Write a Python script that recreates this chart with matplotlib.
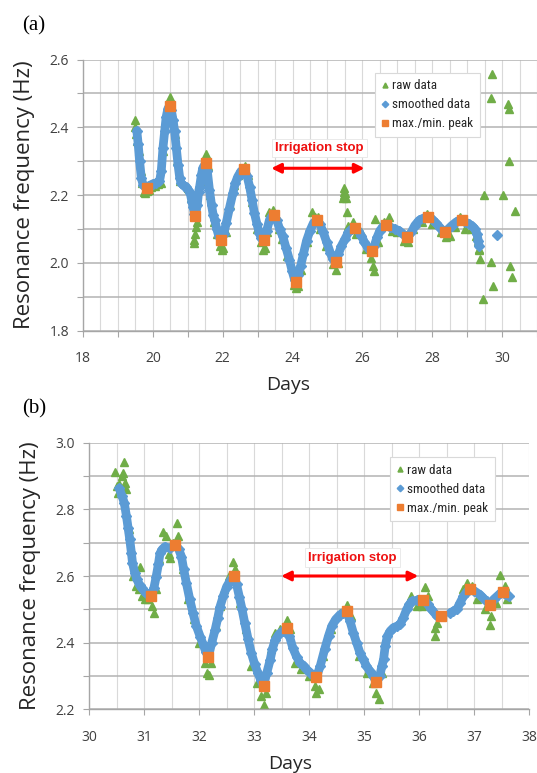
import numpy as np
import matplotlib
matplotlib.use("Agg")
import matplotlib.pyplot as plt
from matplotlib.ticker import MultipleLocator, FuncFormatter

# ---- panel (a) data ----
a_smooth_day = [19.54, 19.58, 19.62, 19.67, 19.72, 19.78, 19.83, 19.90, 20.00, 20.10,
                20.19, 20.24, 20.29, 20.34, 20.38, 20.43, 20.48, 20.53, 20.58, 20.62,
                20.67, 20.72, 20.77, 20.81, 20.88, 20.95, 21.02, 21.07, 21.12, 21.15,
                21.19, 21.22, 21.27, 21.31, 21.34, 21.39, 21.43, 21.51, 21.56, 21.62,
                21.68, 21.73, 21.77, 21.83, 21.89, 21.96, 22.03, 22.10, 22.19, 22.29,
                22.36, 22.43, 22.52, 22.62, 22.70, 22.77, 22.84, 22.91, 22.98, 23.05,
                23.11, 23.17, 23.26, 23.34, 23.41, 23.48, 23.55, 23.63, 23.72, 23.81,
                23.91, 23.99, 24.06, 24.10, 24.16, 24.23, 24.31, 24.40, 24.50, 24.60,
                24.69, 24.78, 24.88, 24.98, 25.08, 25.16, 25.23, 25.31, 25.40, 25.50,
                25.60, 25.70, 25.79, 25.88, 25.97, 26.06, 26.15, 26.22, 26.27, 26.34,
                26.42, 26.50, 26.60, 26.69, 26.80, 26.92, 27.05, 27.16, 27.29, 27.40,
                27.50, 27.62, 27.75, 27.87, 27.98, 28.10, 28.22, 28.30, 28.37, 28.46,
                28.56, 28.68, 28.77, 28.85, 28.95, 29.05, 29.15, 29.22, 29.28, 29.32,
                29.34, np.nan, 29.85]
a_smooth_hz = [2.39, 2.35, 2.30, 2.25, 2.23, 2.225, 2.222, 2.228, 2.233, 2.236,
               2.24, 2.27, 2.34, 2.39, 2.43, 2.455, 2.463, 2.45, 2.42, 2.39,
               2.34, 2.29, 2.25, 2.235, 2.228, 2.225, 2.215, 2.205, 2.18, 2.166,
               2.145, 2.137, 2.17, 2.21, 2.225, 2.26, 2.28, 2.294, 2.27, 2.215,
               2.17, 2.14, 2.127, 2.10, 2.078, 2.066, 2.085, 2.117, 2.16, 2.205,
               2.235, 2.254, 2.27, 2.276, 2.255, 2.225, 2.185, 2.146, 2.115, 2.087,
               2.072, 2.066, 2.095, 2.127, 2.138, 2.141, 2.125, 2.10, 2.078, 2.045,
               2.009, 1.975, 1.95, 1.944, 1.965, 1.99, 2.025, 2.065, 2.095, 2.118,
               2.126, 2.115, 2.09, 2.06, 2.03, 2.01, 2.003, 2.025, 2.05, 2.07,
               2.09, 2.10, 2.102, 2.095, 2.08, 2.06, 2.045, 2.037, 2.035, 2.05,
               2.075, 2.095, 2.108, 2.112, 2.105, 2.10, 2.095, 2.085, 2.075, 2.09,
               2.11, 2.125, 2.132, 2.134, 2.13, 2.118, 2.104, 2.095, 2.092, 2.10,
               2.11, 2.12, 2.125, 2.126, 2.12, 2.115, 2.108, 2.10, 2.085, 2.065,
               2.05, np.nan, 2.082]

a_raw_day = [19.50, 19.50, 19.52, 19.55, 19.60, 19.65, 19.70, 19.74, 19.78, 19.82,
             19.88, 19.95, 20.05, 20.15, 20.22, 20.30, 20.40, 20.46, 20.49, 20.52,
             20.56, 20.62, 20.70, 20.78, 21.00, 21.10, 21.18, 21.19, 21.19, 21.21,
             21.23, 21.26, 21.35, 21.45, 21.50, 21.53, 21.58, 21.65, 21.75, 21.85,
             21.93, 21.97, 22.02, 22.08, 22.20, 22.33, 22.45, 22.58, 22.64, 22.72,
             22.85, 22.98, 23.10, 23.16, 23.20, 23.28, 23.32, 23.45, 23.52, 23.60,
             23.70, 23.85, 23.98, 24.05, 24.10, 24.15, 24.25, 24.40, 24.57, 24.65,
             24.72, 24.80, 24.95, 25.15, 25.23, 25.30, 25.45, 25.46, 25.47, 25.48,
             25.50, 25.52, 25.57, 25.60, 25.72, 25.83, 25.95, 26.10, 26.25, 26.31,
             26.33, 26.36, 26.45, 26.62, 26.75, 26.85, 27.00, 27.20, 27.30, 27.45,
             27.70, 27.85, 28.00, 28.25, 28.40, 28.50, 28.65, 28.80, 28.95, 29.10,
             29.25, 29.30, 29.33, 29.35, 29.37, 29.44, 29.49, 29.67, 29.68, 29.71,
             29.75, 30.02, 30.18, 30.20, 30.20, 30.24, 30.29, 30.38]
a_raw_hz = [2.42, 2.40, 2.38, 2.36, 2.33, 2.27, 2.235, 2.21, 2.205, 2.212,
            2.215, 2.225, 2.228, 2.232, 2.235, 2.33, 2.44, 2.475, 2.49, 2.47,
            2.44, 2.38, 2.30, 2.24, 2.22, 2.19, 2.14, 2.068, 2.058, 2.085,
            2.107, 2.12, 2.24, 2.29, 2.31, 2.32, 2.285, 2.20, 2.12, 2.085,
            2.05, 2.038, 2.045, 2.09, 2.17, 2.23, 2.26, 2.28, 2.285, 2.26,
            2.18, 2.10, 2.06, 2.038, 2.045, 2.09, 2.151, 2.155, 2.14, 2.10,
            2.07, 2.02, 1.99, 1.935, 1.925, 1.93, 1.98, 2.06, 2.15, 2.135,
            2.135, 2.10, 2.05, 1.995, 1.98, 2.0, 2.19, 2.20, 2.21, 2.22,
            2.205, 2.19, 2.15, 2.11, 2.12, 2.085, 2.09, 2.04, 2.015, 1.99,
            1.976, 2.128, 2.06, 2.12, 2.136, 2.095, 2.09, 2.065, 2.06, 2.10,
            2.12, 2.145, 2.115, 2.09, 2.075, 2.08, 2.105, 2.135, 2.10, 2.10,
            2.08, 2.065, 2.04, 2.038, 2.01, 1.893, 2.20, 2.003, 2.486, 2.558,
            1.93, 2.20, 2.47, 2.455, 2.30, 1.99, 1.959, 2.154]

a_peak_day = [19.83, 20.48, 21.22, 21.51, 21.96, 22.62, 23.17, 23.48, 24.10,
              24.69, 25.23, 25.79, 26.27, 26.69, 27.29, 27.87, 28.37, 28.85]
a_peak_hz = [2.222, 2.463, 2.137, 2.294, 2.066, 2.276, 2.066, 2.141, 1.944,
             2.126, 2.003, 2.102, 2.035, 2.112, 2.075, 2.134, 2.092, 2.126]

# ---- panel (b) data ----
b_smooth_day = [30.55, 30.60, 30.64, 30.68, 30.71, 30.74, 30.77, 30.79, 30.83, 30.87,
                30.92, 30.96, 31.04, 31.12, 31.18, 31.22, 31.26, 31.29, 31.33, 31.38,
                31.47, 31.57, 31.63, 31.68, 31.72, 31.77, 31.83, 31.89, 31.95, 32.02,
                32.08, 32.12, 32.17, 32.23, 32.29, 32.34, 32.38, 32.44, 32.50, 32.56,
                32.63, 32.68, 32.73, 32.78, 32.83, 32.89, 32.95, 33.01, 33.07, 33.12,
                33.17, 33.23, 33.29, 33.33, 33.38, 33.45, 33.52, 33.59, 33.64, 33.70,
                33.77, 33.83, 33.90, 33.95, 34.02, 34.08, 34.13, 34.20, 34.28, 34.35,
                34.41, 34.48, 34.56, 34.62, 34.68, 34.74, 34.80, 34.86, 34.92, 34.98,
                35.04, 35.10, 35.16, 35.22, 35.28, 35.32, 35.35, 35.38, 35.42, 35.47,
                35.53, 35.60, 35.65, 35.71, 35.77, 35.82, 35.86, 35.95, 36.07, 36.15,
                36.22, 36.32, np.nan, 36.56, 36.62, 36.68, 36.74, 36.80, 36.86, 36.92,
                37.00, 37.10, 37.16, 37.22, 37.28, 37.35, 37.41, 37.47, 37.51, 37.56,
                37.62]
b_smooth_hz = [2.863, 2.84, 2.82, 2.78, 2.745, 2.71, 2.67, 2.64, 2.61, 2.59,
               2.572, 2.563, 2.548, 2.54, 2.565, 2.598, 2.635, 2.668, 2.68, 2.688,
               2.683, 2.693, 2.68, 2.658, 2.62, 2.578, 2.53, 2.488, 2.45, 2.418,
               2.392, 2.373, 2.358, 2.40, 2.438, 2.475, 2.508, 2.54, 2.568, 2.585,
               2.601, 2.575, 2.538, 2.50, 2.458, 2.41, 2.368, 2.335, 2.308, 2.288,
               2.27, 2.31, 2.348, 2.38, 2.408, 2.425, 2.435, 2.443, 2.42, 2.385,
               2.358, 2.34, 2.33, 2.32, 2.31, 2.30, 2.296, 2.33, 2.38, 2.42,
               2.45, 2.47, 2.484, 2.49, 2.494, 2.465, 2.43, 2.40, 2.37, 2.35,
               2.33, 2.315, 2.30, 2.281, 2.30, 2.33, 2.35, 2.39, 2.42, 2.435,
               2.445, 2.45, 2.455, 2.475, 2.50, 2.515, 2.524, 2.527, 2.529, 2.515,
               2.50, 2.48, np.nan, 2.489, 2.495, 2.50, 2.52, 2.539, 2.552, 2.56,
               2.555, 2.544, 2.534, 2.524, 2.514, 2.53, 2.539, 2.548, 2.553, 2.545,
               2.539]

b_raw_day = [30.47, 30.50, 30.52, 30.55, 30.60, 30.62, 30.64, 30.66, 30.68, 30.72,
             30.76, 30.80, 30.85, 30.90, 30.93, 30.97, 31.02, 31.08, 31.15, 31.18,
             31.22, 31.28, 31.35, 31.40, 31.45, 31.47, 31.52, 31.59, 31.62, 31.70,
             31.80, 31.90, 32.00, 32.10, 32.15, 32.18, 32.22, 32.30, 32.38, 32.45,
             32.55, 32.62, 32.66, 32.75, 32.85, 32.95, 33.05, 33.12, 33.18, 33.22,
             33.30, 33.38, 33.47, 33.59, 33.65, 33.75, 33.85, 34.00, 34.10, 34.13,
             34.18, 34.25, 34.40, 34.55, 34.68, 34.75, 34.90, 35.05, 35.15, 35.22,
             35.26, 35.28, 35.32, 35.80, 35.85, 35.95, 36.05, 36.10, 36.15, 36.28,
             36.28, 36.32, 36.80, 36.86, 36.95, 37.05, 37.20, 37.28, 37.30, 37.40,
             37.47, 37.55, 37.60]
b_raw_hz = [2.913, 2.87, 2.85, 2.875, 2.90, 2.91, 2.943, 2.88, 2.86, 2.74,
            2.68, 2.60, 2.57, 2.56, 2.628, 2.54, 2.53, 2.53, 2.51, 2.488,
            2.56, 2.65, 2.733, 2.72, 2.665, 2.653, 2.70, 2.758, 2.72, 2.62,
            2.53, 2.47, 2.40, 2.34, 2.31, 2.303, 2.34, 2.45, 2.51, 2.56,
            2.60, 2.643, 2.62, 2.52, 2.44, 2.33, 2.28, 2.24, 2.213, 2.25,
            2.38, 2.43, 2.44, 2.468, 2.44, 2.34, 2.32, 2.30, 2.27, 2.25,
            2.26, 2.36, 2.44, 2.49, 2.514, 2.48, 2.36, 2.31, 2.28, 2.25,
            2.23, 2.192, 2.31, 2.52, 2.54, 2.51, 2.51, 2.568, 2.54, 2.42,
            2.445, 2.46, 2.56, 2.578, 2.57, 2.53, 2.50, 2.454, 2.48, 2.52,
            2.603, 2.57, 2.53]

b_peak_day = [31.12, 31.57, 32.17, 32.63, 33.17, 33.59, 34.13, 34.68, 35.22,
              36.07, 36.39, 36.92, 37.28, 37.51]
b_peak_hz = [2.54, 2.693, 2.358, 2.601, 2.27, 2.443, 2.296, 2.494, 2.281,
             2.529, 2.479, 2.56, 2.514, 2.553]

legend_labels = ["raw data", "smoothed data", "max./min. peak"]

GREEN = "#70ad47"
BLUE = "#5b9bd5"
ORANGE = "#ed7d31"
LEGEND_FONT = ["Roboto Condensed", "Liberation Sans Narrow", "Roboto", "DejaVu Sans"]


def every_other(step):
    def fmt(v, pos):
        k = v / step
        if abs(k - round(k)) < 1e-6:
            return "%g" % v if step >= 1 else "%.1f" % v
        return ""
    return FuncFormatter(fmt)


def style_axes(ax, xlim, ylim, xlabel_step):
    ax.set_xlim(*xlim)
    ax.set_ylim(*ylim)
    ax.xaxis.set_major_locator(MultipleLocator(1))
    ax.xaxis.set_minor_locator(MultipleLocator(0.5))
    ax.xaxis.set_major_formatter(every_other(xlabel_step))
    ax.yaxis.set_major_locator(MultipleLocator(0.1))
    ax.yaxis.set_major_formatter(every_other(0.2))
    ax.grid(True, axis="x", which="both", color="#d9d9d9", lw=0.8, zorder=0)
    ax.grid(True, axis="y", which="major", color="#b3b3b3", lw=1.1, zorder=0)
    ax.set_axisbelow(True)
    for s in ["top", "right"]:
        ax.spines[s].set_visible(False)
    for s in ["left", "bottom"]:
        ax.spines[s].set_color("#a6a6a6")
        ax.spines[s].set_linewidth(1.0)
    ax.tick_params(axis="x", which="major", length=4, color="#a6a6a6",
                   labelsize=10, labelcolor="#404040", pad=11)
    ax.tick_params(axis="x", which="minor", length=0)
    ax.tick_params(axis="y", which="major", length=4, color="#a6a6a6",
                   labelsize=10, labelcolor="#404040", pad=6)
    for lab in ax.get_xticklabels() + ax.get_yticklabels():
        lab.set_family("Open Sans")
    ax.set_xlabel("Days", fontsize=14, family="Open Sans", color="#262626")
    ax.set_ylabel("Resonance frequency (Hz)", fontsize=16, family="Open Sans",
                  color="#262626")


def draw_series(ax, raw_d, raw_v, sm_d, sm_v, pk_d, pk_v):
    h1, = ax.plot(raw_d, raw_v, ls="none", marker="^", ms=6, color=GREEN,
                  mec=GREEN, zorder=2)
    ax.plot(sm_d, sm_v, ls="-", lw=6.3, color=BLUE, zorder=3,
            solid_capstyle="round", solid_joinstyle="round")
    h2, = ax.plot(sm_d, sm_v, ls="none", marker="D", ms=5.5, color=BLUE,
                  mec=BLUE, zorder=3)
    h3, = ax.plot(pk_d, pk_v, ls="none", marker="s", ms=6.5, color=ORANGE,
                  mec=ORANGE, zorder=4)
    return [h1, h2, h3]


def irrigation(ax, x0, x1, y_arrow, x_text, y_text):
    ax.annotate("", xy=(x0, y_arrow), xytext=(x1, y_arrow),
                arrowprops=dict(arrowstyle="<|-|>", color="#ff0000", lw=2.2,
                                mutation_scale=14, shrinkA=0, shrinkB=0),
                zorder=5)
    ax.text(x_text, y_text, "Irrigation stop", color="#ee1111",
            fontsize=9.5, fontweight="bold", family="Liberation Sans",
            ha="center", va="center", zorder=5,
            bbox=dict(boxstyle="square,pad=0.25", fc="white", ec="#e6e6e6",
                      lw=0.6))


def add_legend(ax, handles, x0, y1):
    leg = ax.legend(handles, legend_labels, loc="upper left",
                    bbox_to_anchor=(x0, y1), frameon=True, fancybox=False,
                    edgecolor="#d9d9d9", framealpha=1, handlelength=0.5,
                    handletextpad=0.3, labelspacing=0.45, borderpad=0.5,
                    markerscale=0.6,
                    prop=dict(family=LEGEND_FONT, size=9.5))
    leg.get_frame().set_linewidth(0.8)
    for t in leg.get_texts():
        t.set_color("#262626")
    leg.set_zorder(6)


fig = plt.figure(figsize=(5.37, 7.73), dpi=100)

ax_a = fig.add_axes([0.1546, 0.5724, 0.8454, 0.3506])
style_axes(ax_a, (18, 31.0), (1.8, 2.6), 2)
hs = draw_series(ax_a, a_raw_day, a_raw_hz, a_smooth_day, a_smooth_hz,
                 a_peak_day, a_peak_hz)
irrigation(ax_a, 23.39, 26.06, 2.279, 24.77, 2.339)
add_legend(ax_a, hs, 0.628, 0.975)
ax_a.yaxis.set_label_coords(-0.105, 0.5)
ax_a.xaxis.set_label_coords(0.4515, -0.168)

ax_b = fig.add_axes([0.1657, 0.0824, 0.8203, 0.3449])
style_axes(ax_b, (30, 38), (2.2, 3.0), 1)
hs = draw_series(ax_b, b_raw_day, b_raw_hz, b_smooth_day, b_smooth_hz,
                 b_peak_day, b_peak_hz)
irrigation(ax_b, 33.49, 35.98, 2.6, 34.78, 2.655)
add_legend(ax_b, hs, 0.669, 0.97)
ax_b.yaxis.set_label_coords(-0.108, 0.5)
ax_b.xaxis.set_label_coords(0.456, -0.171)

fig.text(22 / 537, 1 - 26 / 773, "(a)", fontsize=15, family="Liberation Serif",
         ha="left", va="center")
fig.text(22 / 537, 1 - 409 / 773, "(b)", fontsize=15, family="Liberation Serif",
         ha="left", va="center")

fig.savefig("out.png", dpi=100)
